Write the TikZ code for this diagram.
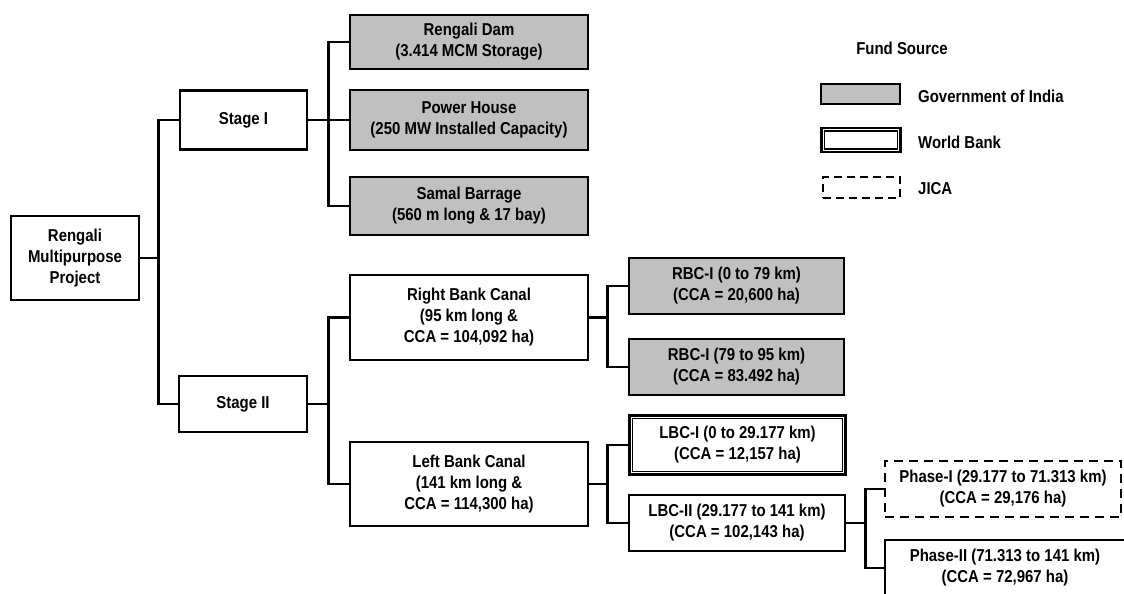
\documentclass[tikz,border=0pt]{standalone}
\usepackage{fontspec}
\setmainfont{Liberation Sans}[FakeStretch=0.87]
\definecolor{govgray}{RGB}{192,192,192}
\tikzset{
  box/.style={draw, line width=2.7pt, align=center, inner sep=0pt},
  govbox/.style={box, fill=govgray},
  wbbox/.style={box, line width=2.7pt},
  wbinner/.style={line width=1.4pt},
  jicabox/.style={box, dash pattern=on 9pt off 6pt},
  link/.style={line width=2.5pt},
  legtext/.style={anchor=west, inner sep=0pt},
}
\begin{document}
\begin{tikzpicture}[x=1pt,y=-1pt,font=\fontsize{17.2}{21}\selectfont\bfseries]
  \useasboundingbox (0,0) rectangle (1124,594);
  \clip (0,0) rectangle (1124,594);
  % tree
  \node[box, minimum width=128pt, minimum height=84pt] (root) at (75,258) {Rengali\\Multipurpose\\Project};
  \node[box, minimum width=127pt, minimum height=59pt] (s1) at (243.5,120) {Stage I};
  \node[box, minimum width=128pt, minimum height=56pt] (s2) at (243,404) {Stage II};
  \node[govbox, minimum width=238pt, minimum height=54pt] (dam) at (469,42) {Rengali Dam\\(3.414 MCM Storage)};
  \node[govbox, minimum width=238pt, minimum height=60pt] (ph) at (469,120) {Power House\\(250 MW Installed Capacity)};
  \node[govbox, minimum width=238pt, minimum height=58pt] (sb) at (469,206) {Samal Barrage\\(560 m long \& 17 bay)};
  \node[box, minimum width=238pt, minimum height=85pt] (rbc) at (469,317.5) {Right Bank Canal\\(95 km long \&\\CCA = 104,092 ha)};
  \node[box, minimum width=238pt, minimum height=84pt] (lbc) at (469,484) {Left Bank Canal\\(141 km long \&\\CCA = 114,300 ha)};
  \node[govbox, minimum width=215pt, minimum height=56pt] (rbc1) at (736.5,286) {RBC-I (0 to 79 km)\\(CCA = 20,600 ha)};
  \node[govbox, minimum width=215pt, minimum height=56pt] (rbc2) at (736.5,367) {RBC-I (79 to 95 km)\\(CCA = 83.492 ha)};
  \node[wbbox, minimum width=216pt, minimum height=59pt] (lbc1) at (737.5,445) {LBC-I (0 to 29.177 km)\\(CCA = 12,157 ha)};
  \draw[wbinner] ([xshift=4.3pt,yshift=-4.3pt]lbc1.north west) rectangle ([xshift=-4.3pt,yshift=4.3pt]lbc1.south east);
  \node[box, minimum width=216pt, minimum height=56pt] (lbc2) at (737,523) {LBC-II (29.177 to 141 km)\\(CCA = 102,143 ha)};
  \node[jicabox, minimum width=236pt, minimum height=56pt] (p1) at (1003,489) {Phase-I (29.177 to 71.313 km)\\(CCA = 29,176 ha)};
  \node[box, minimum width=240pt, minimum height=56pt] (p2) at (1005,568) {Phase-II (71.313 to 141 km)\\(CCA = 72,967 ha)};
  % connectors
  \draw[link] (root.east) -- ++(18,0) coordinate (j0) |- (s1.west);
  \draw[link] (j0) |- (s2.west);
  \draw[link] (s1.east) -- ++(20,0) coordinate (j1) |- (dam.west);
  \draw[link] (j1) |- (sb.west);
  \draw[link] (j1) -- (ph.west);
  \draw[link] (s2.east) -- ++(20,0) coordinate (j2) |- (rbc.west);
  \draw[link] (j2) |- (lbc.west);
  \draw[link] (rbc.east) -- ++(18,0) coordinate (j3) |- (rbc1.west);
  \draw[link] (j3) |- (rbc2.west);
  \draw[link] (lbc.east) -- ++(18,0) coordinate (j4) |- (lbc1.west);
  \draw[link] (j4) |- (lbc2.west);
  \draw[link] (lbc2.east) -- ++(19,0) coordinate (j5) |- (p1.west);
  \draw[link] (j5) |- (p2.west);
  % legend
  \node (fund) at (902,48) {Fund Source};
  \node[govbox, minimum width=79pt, minimum height=20pt] (lgov) at (860.5,94) {};
  \node[wbbox, minimum width=79pt, minimum height=24pt] (lwb) at (861,140) {};
  \draw[wbinner] ([xshift=4.3pt,yshift=-4.3pt]lwb.north west) rectangle ([xshift=-4.3pt,yshift=4.3pt]lwb.south east);
  \node[jicabox, minimum width=77pt, minimum height=21pt, dash pattern=on 8pt off 5pt] (ljica) at (861.5,187.5) {};
  \node[legtext] (tgov) at (918,96) {Government of India};
  \node[legtext] (twb) at (918,142) {World Bank};
  \node[legtext] (tjica) at (918,189) {JICA};
\end{tikzpicture}
\end{document}
